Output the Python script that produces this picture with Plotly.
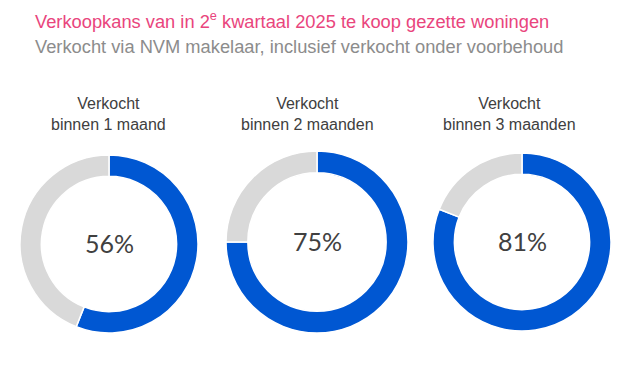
import plotly.graph_objects as go

# Page is 622x371; the html body has an 8px margin, so the figure is drawn 8px in.
PAGE_W, PAGE_H = 622, 371
OFF = 8
W, H = PAGE_W - OFF, PAGE_H - OFF

categories = ["Verkocht<br>binnen 1 maand", "Verkocht<br>binnen 2 maanden", "Verkocht<br>binnen 3 maanden"]
sold_pct = [56, 75, 81]
unsold_pct = [44, 25, 19]
center_labels = ["56%", "75%", "81%"]

title = "Verkoopkans van in 2<sup>e</sup> kwartaal 2025 te koop gezette woningen"
subtitle = "Verkocht via NVM makelaar, inclusief verkocht onder voorbehoud"

BLUE = "#0057D2"
GREY = "#D9D9D9"

# donut boxes in page pixels (left, right, top, bottom)
boxes = [(20, 198, 155, 333), (226, 408, 151, 333), (433, 611, 151, 333)]
label_x = [108, 307, 509]


def px(x):
    return (x - OFF) / W


def py(y):
    return (H - (y - OFF)) / H


fig = go.Figure()
for i, (l, r, t, b) in enumerate(boxes):
    fig.add_trace(go.Pie(
        values=[sold_pct[i], unsold_pct[i]],
        labels=["Verkocht", "Niet verkocht"],
        hole=0.76,
        sort=False,
        direction="clockwise",
        rotation=0,
        textinfo="none",
        hoverinfo="label+value",
        marker=dict(colors=[BLUE, GREY], line=dict(color="white", width=1.5)),
        domain=dict(x=[px(l), px(r)], y=[py(b), py(t)]),
        showlegend=False,
    ))
    cx = (l + r) / 2
    cy = (t + b) / 2
    fig.add_annotation(x=px(cx), y=py(cy - 1), xref="paper", yref="paper",
                       text=center_labels[i], showarrow=False,
                       font=dict(family="Lato, Liberation Sans, Arial", size=25, color="#404040"),
                       xanchor="center", yanchor="middle")
    fig.add_annotation(x=px(label_x[i]), y=py(114), xref="paper", yref="paper",
                       text=categories[i], showarrow=False,
                       font=dict(family="Liberation Sans, Arial", size=16, color="#404040"),
                       xanchor="center", yanchor="middle", align="center")

fig.add_annotation(x=px(33), y=py(20), xref="paper", yref="paper",
                   text=title, showarrow=False,
                   font=dict(family="Liberation Sans, Arial", size=18.3, color="#E9457D"),
                   xanchor="left", yanchor="middle")
fig.add_annotation(x=px(33), y=py(47), xref="paper", yref="paper",
                   text=subtitle, showarrow=False,
                   font=dict(family="Liberation Sans, Arial", size=18.3, color="#8C8C8C"),
                   xanchor="left", yanchor="middle")

fig.update_layout(
    width=W, height=H,
    margin=dict(l=0, r=0, t=0, b=0),
    paper_bgcolor="white",
    plot_bgcolor="white",
)

fig.write_html("out.html")
